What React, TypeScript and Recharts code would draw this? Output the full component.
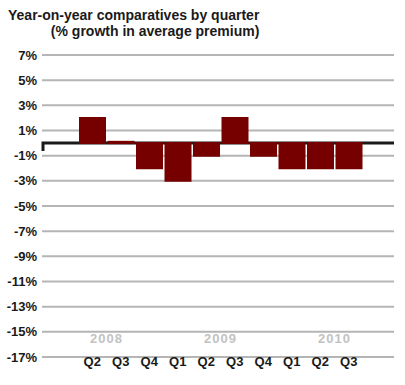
import React from 'react';
import { BarChart, Bar, XAxis, YAxis, CartesianGrid } from 'recharts';

const quarters = ['Q2', 'Q3', 'Q4', 'Q1', 'Q2', 'Q3', 'Q4', 'Q1', 'Q2', 'Q3'];
// year label sits on the right edge of the category it is attached to
const yearLabels = ['2008', '', '', '', '2009', '', '', '', '2010', ''];
const growth = [2, 0.1, -2, -3, -1, 2, -1, -2, -2, -2];
const yTicks = [7, 5, 3, 1, -1, -3, -5, -7, -9, -11, -13, -15, -17];
const zeroLine = [0];

const BAR_COLOR = '#760000';
const FONT = '"Liberation Sans", Arial, Helvetica, sans-serif';
const BAND = 28.5;

const data = quarters.map((q, i) => ({ id: `p${i}`, quarter: q, year: yearLabels[i], value: growth[i] }));

const QuarterTick = (props: any) => {
  const { x, y, payload } = props;
  const row = data[payload.index];
  return (
    <g>
      <text x={x} y={y + 9} textAnchor="middle" fontFamily={FONT} fontWeight="bold" fontSize={13} fill="#1a1a1a">
        {row ? row.quarter : ''}
      </text>
      {row && row.year ? (
        <text x={x + BAND / 2} y={y - 14} textAnchor="middle" fontFamily={FONT} fontWeight="bold" fontSize={13} letterSpacing={1} fill="#c2c2c2">
          {row.year}
        </text>
      ) : null}
    </g>
  );
};

// zero line with the small stub going down at the left end (drawn as a grid line so it sits under the bars)
const ZeroLine = (props: any) => {
  const { x1, y1, x2, y2 } = props;
  return <path d={`M${x1 + 1},${y1 + 8} L${x1 + 1},${y1} L${x2},${y2}`} stroke="#1a1a1a" strokeWidth={3} fill="none" />;
};

const App: React.FC = () => {
  return (
    <div style={{ position: 'absolute', left: 0, top: 0, width: 405, height: 385, background: '#fff', fontFamily: FONT }}>
      <div style={{ position: 'absolute', left: 8, top: 7, display: 'inline-block', textAlign: 'right', fontWeight: 'bold', fontSize: 14, lineHeight: '16px', color: '#1a1a1a', whiteSpace: 'nowrap' }}>
        <div>Year-on-year comparatives by quarter</div>
        <div>(% growth in average premium)</div>
      </div>
      <BarChart width={405} height={385} data={data} margin={{ top: 55, right: 11, bottom: 0, left: 0 }} barSize={25}>
        <CartesianGrid vertical={false} stroke="#b5b5b5" strokeWidth={2} />
        <CartesianGrid vertical={false} horizontalValues={zeroLine} horizontal={<ZeroLine />} />
        <XAxis
          dataKey="id"
          height={28}
          axisLine={false}
          tickLine={false}
          tickSize={0}
          tickMargin={0}
          interval={0}
          padding={{ left: 36, right: 31 }}
          tick={<QuarterTick />}
        />
        <YAxis
          type="number"
          domain={[-17, 7]}
          ticks={yTicks}
          interval={0}
          width={42}
          axisLine={false}
          tickLine={false}
          tickSize={0}
          tickMargin={5}
          tickFormatter={(v: number) => `${v}%`}
          tick={{ fontFamily: FONT, fontWeight: 'bold', fontSize: 13, fill: '#1a1a1a' }}
        />
        <Bar dataKey="value" fill={BAR_COLOR} stroke={BAR_COLOR} strokeWidth={2} isAnimationActive={false} />
      </BarChart>
    </div>
  );
};

export default App;
